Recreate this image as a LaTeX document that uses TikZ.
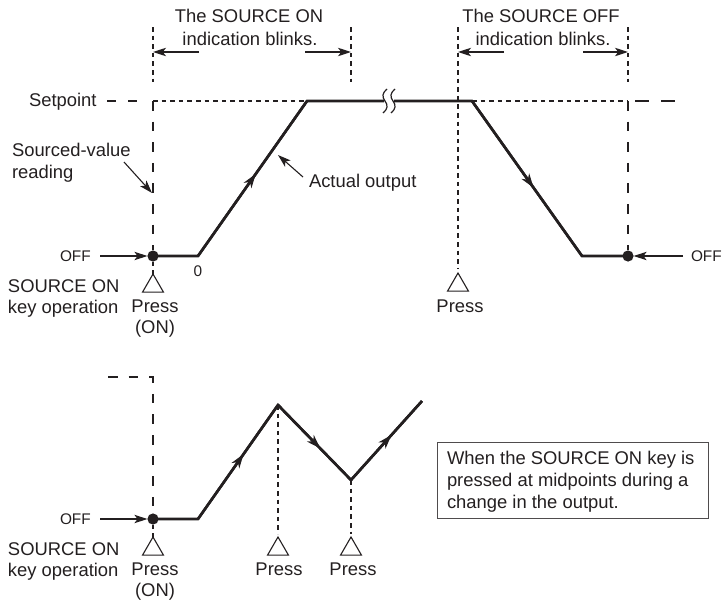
\documentclass[tikz,border=0pt]{standalone}
\usepackage{fontspec}
\setmainfont{Liberation Sans}
\usetikzlibrary{arrows.meta,decorations.markings,shapes.geometric}
\definecolor{ink}{HTML}{231F20}
\begin{document}
\begin{tikzpicture}[x=0.5pt,y=-0.5pt,
  txt/.style={font=\fontsize{9.2}{11.5}\selectfont, inner sep=0pt, outer sep=0pt, text=ink},
  small/.style={font=\fontsize{7.7}{9}\selectfont, inner sep=0pt, outer sep=0pt, text=ink},
  sdash/.style={draw=ink, line width=0.6pt, dash pattern=on 2.3pt off 2pt},
  ldash/.style={draw=ink, line width=0.6pt, dash pattern=on 4.8pt off 5.5pt},
  outl/.style={draw=ink, line width=1.3pt, line join=miter},
  tarrow/.style={draw=ink, line width=0.55pt, -{Stealth[length=6.5pt,width=4.2pt,inset=1.6pt]}},
  midarrow/.style={postaction={decorate}, decoration={markings, mark=at position #1 with {\arrow{Stealth[length=7pt,width=4.6pt,inset=2pt]}}}},
  dot/.style={circle, fill=ink, inner sep=0pt, outer sep=0pt, minimum size=5.6pt},
  tri/.style={regular polygon, regular polygon sides=3, draw=ink, line width=0.55pt, inner sep=0pt, outer sep=0pt, minimum size=12.1pt, anchor=corner 1},
  brk/.style={draw=ink, line width=0.6pt}
]
\useasboundingbox (0,0) rectangle (723,600);

%% ================= TOP DIAGRAM =================
\node[dot] (d1) at (153,256) {};
\coordinate (p1) at (198,256);
\coordinate (p2) at (307,101);
\coordinate (b1) at (384,101);
\coordinate (k1) at (385,101);
\coordinate (k2) at (393,101);
\coordinate (b2) at (394,101);
\coordinate (p3) at (472,101);
\coordinate (p4) at (582,256);
\node[dot] (d2) at (628,256) {};

\node[tri] (t1) at (153,274) {};
\node[tri] (t2) at (458,273) {};

\coordinate (g1t) at (153,27); \coordinate (g1b) at (153,82);
\coordinate (g2t) at (351,27); \coordinate (g2b) at (351,82);
\coordinate (g3t) at (458,27);
\coordinate (g4t) at (628,27); \coordinate (g4b) at (628,82);
\draw[sdash] (g1t) -- (g1b);
\draw[sdash] (g2t) -- (g2b);
\draw[sdash, shorten >=2.5pt] (g3t) -- (t2.corner 1);
\draw[sdash] (g4t) -- (g4b);

\coordinate (s0) at (107,101); \coordinate (s1) at (140,101);
\coordinate (s2) at (153,101); \coordinate (s3) at (628,101);
\coordinate (s4) at (635,101); \coordinate (s5) at (675,101);
\draw[draw=ink, line width=0.6pt, dash pattern=on 4.5pt off 6pt] (s0) -- (s1);
\draw[sdash] (s2) -- (p2);
\draw[sdash] (p3) -- (s3);
\draw[draw=ink, line width=0.6pt, dash pattern=on 7pt off 6pt] (s4) -- (s5);
\draw[ldash] (s2) -- (d1.north);
\draw[ldash] (s3) -- (d2.north);
\draw[sdash] (d1.south) -- (t1.corner 1);

\draw[outl] (d1.center) -- (p1) -- (p2) -- (b1);
\draw[outl] (b2) -- (p3) -- (p4) -- (d2.center);
\draw[outl, midarrow=0.53] (p1) -- (p2);
\draw[outl, midarrow=0.56] (p3) -- (p4);
\foreach \k in {k1,k2}
  \draw[brk] ([shift={(2,-12)}]\k) .. controls ([shift={(-3,-8)}]\k) and ([shift={(-3,-4)}]\k) .. (\k)
             .. controls ([shift={(3,4)}]\k) and ([shift={(3,8)}]\k) .. ([shift={(-2,12)}]\k);

\coordinate (ba1) at (199,52); \coordinate (ba1e) at (153,52);
\coordinate (ba2) at (305,52); \coordinate (ba2e) at (351,52);
\coordinate (ba3) at (504,52); \coordinate (ba3e) at (458,52);
\coordinate (ba4) at (583,52); \coordinate (ba4e) at (628,52);
\draw[tarrow] (ba1) -- (ba1e);
\draw[tarrow] (ba2) -- (ba2e);
\draw[tarrow] (ba3) -- (ba3e);
\draw[tarrow] (ba4) -- (ba4e);

\node[txt, anchor=base] (on1) at (249,22) {The SOURCE ON};
\node[txt, anchor=base] (on2) at (250,45) {indication blinks.};
\node[txt, anchor=base] (of1) at (541,22) {The SOURCE OFF};
\node[txt, anchor=base] (of2) at (543,45) {indication blinks.};

\node[txt, anchor=base west] (sp) at (29,106) {Setpoint};
\node[txt, anchor=base west] (sv1) at (12,156) {Sourced-value};
\node[txt, anchor=base west] (sv2) at (12,178) {reading};
\coordinate (sva) at (124,162); \coordinate (svb) at (152,193);
\draw[tarrow] (sva) -- (svb);

\node[txt, anchor=base west] (ao) at (309,187) {Actual output};
\coordinate (aoa) at (303,177); \coordinate (aob) at (278,155);
\draw[tarrow] (aoa) -- (aob);

\node[small, anchor=base west] (off1) at (60,261) {OFF};
\coordinate (o1a) at (100,256);
\draw[tarrow] (o1a) -- (d1.west);
\node[small, anchor=base] (zero) at (198,276) {0};

\node[txt, anchor=base west] (so1) at (8,292) {SOURCE ON};
\node[txt, anchor=base west] (ko1) at (8,313) {key operation};
\node[txt, anchor=base] (pr1) at (155,312) {Press};
\node[txt, anchor=base] (pon1) at (155,333) {(ON)};
\node[txt, anchor=base] (pr2) at (460,312) {Press};

\node[small, anchor=base west] (off2) at (691,261) {OFF};
\coordinate (o2a) at (683,256);
\draw[tarrow] (o2a) -- (d2.east);

%% ================= BOTTOM DIAGRAM =================
\node[dot] (d3) at (153,519) {};
\coordinate (q1) at (198,519);
\coordinate (q2) at (278,405);
\coordinate (q3) at (351,480);
\coordinate (q4) at (422,401);
\coordinate (h0) at (108,377);
\coordinate (h1) at (153,377);

\node[tri] (t3) at (153,537) {};
\node[tri] (t4) at (278,537) {};
\node[tri] (t5) at (351,537) {};

\draw[ldash] (h0) -- (h1) -- (d3.north);
\draw[sdash] (d3.south) -- (t3.corner 1);
\draw[sdash, shorten >=1.5pt] (q2) -- (t4.corner 1);
\draw[sdash, shorten >=1.5pt] (q3) -- (t5.corner 1);

\draw[outl] (d3.center) -- (q1) -- (q2) -- (q3) -- (q4);
\draw[outl, midarrow=0.57] (q1) -- (q2);
\draw[outl, midarrow=0.58] (q2) -- (q3);
\draw[outl, midarrow=0.57] (q3) -- (q4);

\node[small, anchor=base west] (off3) at (60,524) {OFF};
\coordinate (o3a) at (100,519);
\draw[tarrow] (o3a) -- (d3.west);

\node[txt, anchor=base west] (so2) at (8,555) {SOURCE ON};
\node[txt, anchor=base west] (ko2) at (8,576) {key operation};
\node[txt, anchor=base] (pr3) at (155,575) {Press};
\node[txt, anchor=base] (pon3) at (155,596) {(ON)};
\node[txt, anchor=base] (pr4) at (279,575) {Press};
\node[txt, anchor=base] (pr5) at (353,575) {Press};

\node[draw=ink!80, line width=0.6pt, anchor=north west, minimum width=135.5pt, minimum height=38pt, inner sep=0pt] (box) at (437,442) {};
\node[txt, anchor=base west] (bx1) at (447,464) {When the SOURCE ON key is};
\node[txt, anchor=base west] (bx2) at (447,486) {pressed at midpoints during a};
\node[txt, anchor=base west] (bx3) at (447,508) {change in the output.};
\end{tikzpicture}
\end{document}
